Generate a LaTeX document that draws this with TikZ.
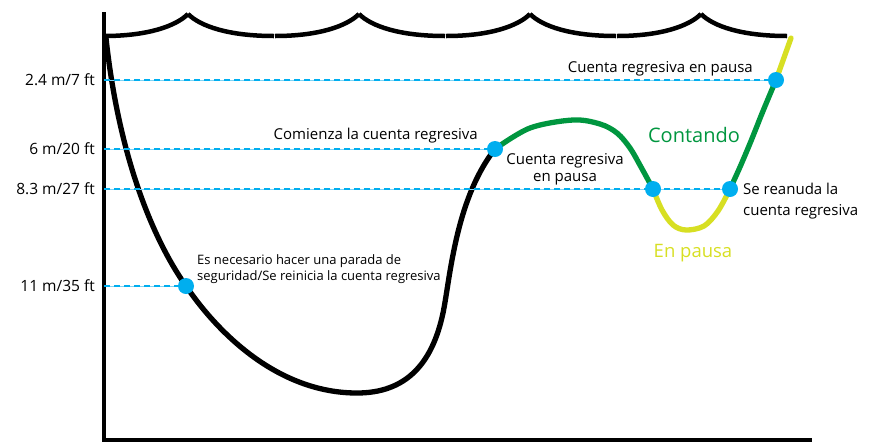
\documentclass[tikz,border=0pt]{standalone}
\usepackage{fontspec}
\setmainfont{Open Sans}
\definecolor{dotblue}{HTML}{00AEEF}
\definecolor{lineblue}{HTML}{7FD3F5}
\definecolor{cgreen}{HTML}{00963F}
\definecolor{cyellow}{HTML}{D7DF23}
\begin{document}
\begin{tikzpicture}[x=1pt,y=-1pt,
  curve/.style={line width=5.3pt, line cap=round, line join=round},
  axisline/.style={line width=4.5pt, black},
  wave/.style={line width=4.5pt, black},
  dotnode/.style={circle, fill=dotblue, inner sep=0pt, minimum size=16pt},
  ylab/.style={anchor=east, inner sep=0pt, font=\fontsize{15.5}{18}\selectfont},
  note/.style={inner sep=0pt, font=\fontsize{15}{17}\selectfont, align=left},
  guideA/.style={lineblue, line width=1pt},
  guideB/.style={dotblue, line width=2.6pt, dash pattern=on 6pt off 4pt}]
\useasboundingbox (0,0) rectangle (877,445);
% axes
\draw[axisline] (104,12) -- (104,440) -- (812,440);
% waves
\foreach \c in {188,359,530,701}{
  \draw[wave] (\c,14) .. controls (\c-12,26) and (\c-40,36) .. (\c-84,36);
  \draw[wave] (\c,14) .. controls (\c+12,26) and (\c+40,36) .. (\c+86,36);
}
% axis coordinates
\coordinate (a1) at (104,80);
\coordinate (a2) at (104,149);
\coordinate (a3) at (104,189);
\coordinate (a4) at (104,286);
% dot positions
\coordinate (d1) at (776,80);
\coordinate (d2) at (495,149);
\coordinate (d3) at (653,189);
\coordinate (d4) at (730,189);
\coordinate (d5) at (186,286);
% profile
\draw[curve, black] (106,38) .. controls (118,150) and (150,235) .. (d5)
  .. controls (220,336) and (280,393) .. (357,393)
  .. controls (405,393) and (432,365) .. (443,313)
  .. controls (450,280) and (455,200) .. (d2);
\draw[curve, cgreen] plot[smooth, tension=0.55] coordinates {(495,149) (530,128) (573,120) (600,124) (617,133) (630,148) (641,167) (653,189)};
\draw[curve, cyellow] plot[smooth, tension=0.55] coordinates {(653,189) (662,210) (673,225) (686,230) (704,226) (718,211) (730,189)};
\draw[curve, cgreen] plot[smooth, tension=0.55] coordinates {(730,189) (740,167) (751,141) (763,111) (776,80)};
\draw[curve, cyellow] (d1) -- (791,38);
% guide lines
\foreach \a/\d in {a1/d1,a2/d2,a3/d4,a4/d5}{
  \draw[guideA] (\a) -- (\d);
  \draw[guideB] (\a) -- (\d);
}
% dots
\node[dotnode] (n1) at (d1) {};
\node[dotnode] (n2) at (d2) {};
\node[dotnode] (n3) at (d3) {};
\node[dotnode] (n4) at (d4) {};
\node[dotnode] (n5) at (d5) {};
% axis labels
\node[ylab] (l1) at (95,80) {2.4 m/7 ft};
\node[ylab] (l2) at (95,149) {6 m/20 ft};
\node[ylab] (l3) at (95,189) {8.3 m/27 ft};
\node[ylab] (l4) at (95,286) {11 m/35 ft};
% notes
\node[note, anchor=east] (t1) at (753,69) {Cuenta regresiva en pausa};
\node[note, anchor=east] (t2) at (478,136) {Comienza la cuenta regresiva};
\node[note, align=center] (t3) at (565,169) {Cuenta regresiva\\en pausa};
\node[note, anchor=west, font=\fontsize{15}{21}\selectfont] (t4) at (743,201) {Se reanuda la\\cuenta regresiva};
\node[note, anchor=west, font=\fontsize{13}{16}\selectfont] (t5) at (197,269) {Es necesario hacer una parada de\\seguridad/Se reinicia la cuenta regresiva};
\node[font=\fontsize{20}{24}\selectfont, text=cgreen] (t6) at (694,135) {Contando};
\node[font=\fontsize{18.5}{22}\selectfont, text=cyellow] (t7) at (693,253) {En pausa};
\end{tikzpicture}
\end{document}
